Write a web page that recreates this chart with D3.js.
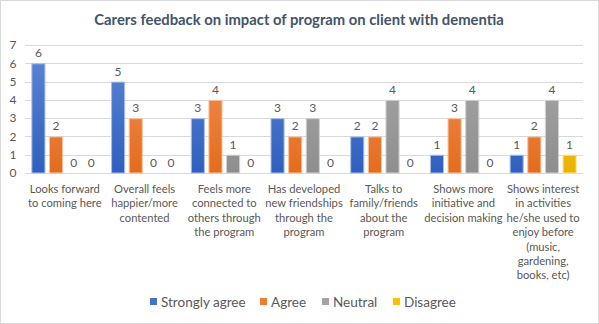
<!DOCTYPE html>
<html><head><meta charset="utf-8">
<script src="https://cdn.jsdelivr.net/npm/d3@7"></script>
<style>body{margin:0;background:#fff}svg{display:block}</style>
</head><body>
<svg id="c" width="599" height="324"></svg>
<script>
const categories = [
  ["Looks forward","to coming here"],
  ["Overall feels","happier/more","contented"],
  ["Feels more","connected to","others through","the program"],
  ["Has developed","new friendships","through the","program"],
  ["Talks to","family/friends","about the","program"],
  ["Shows more","initiative and","decision making"],
  ["Shows interest","in activities","he/she used to","enjoy before","(music,","gardening,","books, etc)"]
];
const seriesNames = ["Strongly agree","Agree","Neutral","Disagree"];
const stronglyAgree = [6,5,3,3,2,1,1];
const agree = [2,3,4,2,2,3,2];
const neutral = [0,0,1,3,4,4,4];
const disagree = [0,0,0,0,0,0,1];
const yTicks = [0,1,2,3,4,5,6,7];
const title = "Carers feedback on impact of program on client with dementia";

const seriesValues = [stronglyAgree, agree, neutral, disagree];
const colors = [
  {top:"#5f88d4", bot:"#2f5fbf", stroke:"#a9c0ea"},
  {top:"#f2945f", bot:"#e46c1c", stroke:"#f7c3a0"},
  {top:"#ababab", bot:"#8e8e8e", stroke:"#d0d0d0"},
  {top:"#ffcc2e", bot:"#eab200", stroke:"#ffe39a"}
];
const keyColors = ["#4472c4","#ed7d31","#a5a5a5","#ffc000"];

const svg = d3.select("#c");
const font = "Lato, 'Open Sans', sans-serif";

svg.append("rect").attr("x",0.5).attr("y",0.5).attr("width",598).attr("height",323)
  .attr("fill","#fff").attr("stroke","#d9d9d9");

const defs = svg.append("defs");
colors.forEach((c,i)=>{
  const g = defs.append("linearGradient").attr("id","g"+i).attr("x1",0).attr("x2",0)
    .attr("gradientUnits","userSpaceOnUse").attr("y1",45).attr("y2",173);
  g.append("stop").attr("offset","0%").attr("stop-color",c.top);
  g.append("stop").attr("offset","100%").attr("stop-color",c.bot);
});

const x0 = d3.scaleBand().domain(d3.range(categories.length)).range([25,583]);
const x1 = d3.scaleBand().domain(d3.range(4)).range([0, x0.bandwidth()]).paddingInner(0.2).paddingOuter(0.36);
const y = d3.scaleLinear().domain([0,7]).range([173,45]);

svg.append("text").attr("x",299).attr("y",25).attr("text-anchor","middle")
  .attr("font-family",font).attr("font-weight","bold").attr("font-size",14.8).attr("fill","#44546a")
  .text(title);

svg.append("g").selectAll("line").data(yTicks).join("line")
  .attr("x1",25).attr("x2",583).attr("y1",d=>Math.round(y(d))+0.5).attr("y2",d=>Math.round(y(d))+0.5)
  .attr("stroke","#d9d9d9").attr("stroke-width",1);

const yAxis = d3.axisLeft(y).tickValues(yTicks).tickFormat(d3.format("d")).tickSize(0).tickPadding(0);
const ya = svg.append("g").attr("transform","translate(13,0)").call(yAxis);
ya.select(".domain").remove();
ya.selectAll("text").attr("font-family",font).attr("font-size",12).attr("fill","#595959").attr("text-anchor","middle");

const groups = svg.append("g").selectAll("g").data(categories).join("g")
  .attr("transform",(d,i)=>`translate(${x0(i)},0)`);
groups.each(function(_,ci){
  const g = d3.select(this);
  seriesValues.forEach((vals,si)=>{
    const v = vals[ci];
    const bx = x1(si), bw = x1.bandwidth();
    if (v>0) {
      g.append("rect").attr("x",bx+0.5).attr("y",y(v)+0.5).attr("width",bw-1).attr("height",y(0)-y(v)-0.5)
        .attr("fill",`url(#g${si})`).attr("stroke",colors[si].stroke).attr("stroke-width",1);
    }
    g.append("text").attr("x",bx+bw/2).attr("y",y(v)-6).attr("text-anchor","middle")
      .attr("font-family",font).attr("font-size",12).attr("fill","#595959").text(v);
  });
  const t = g.append("text").attr("text-anchor","middle").attr("font-family",font)
    .attr("font-size",11.2).attr("fill","#595959");
  categories[ci].forEach((line,li)=>{
    t.append("tspan").attr("x",x0.bandwidth()/2).attr("y",193+li*14.4).text(line);
  });
});

const legendX = [150,260,322,393];
const lg = svg.append("g");
seriesNames.forEach((n,i)=>{
  lg.append("rect").attr("x",legendX[i]).attr("y",298).attr("width",7).attr("height",7).attr("fill",keyColors[i]);
  lg.append("text").attr("x",legendX[i]+11).attr("y",307).attr("font-family",font).attr("font-size",13.5)
    .attr("fill","#595959").text(n);
});
</script>
</body></html>
